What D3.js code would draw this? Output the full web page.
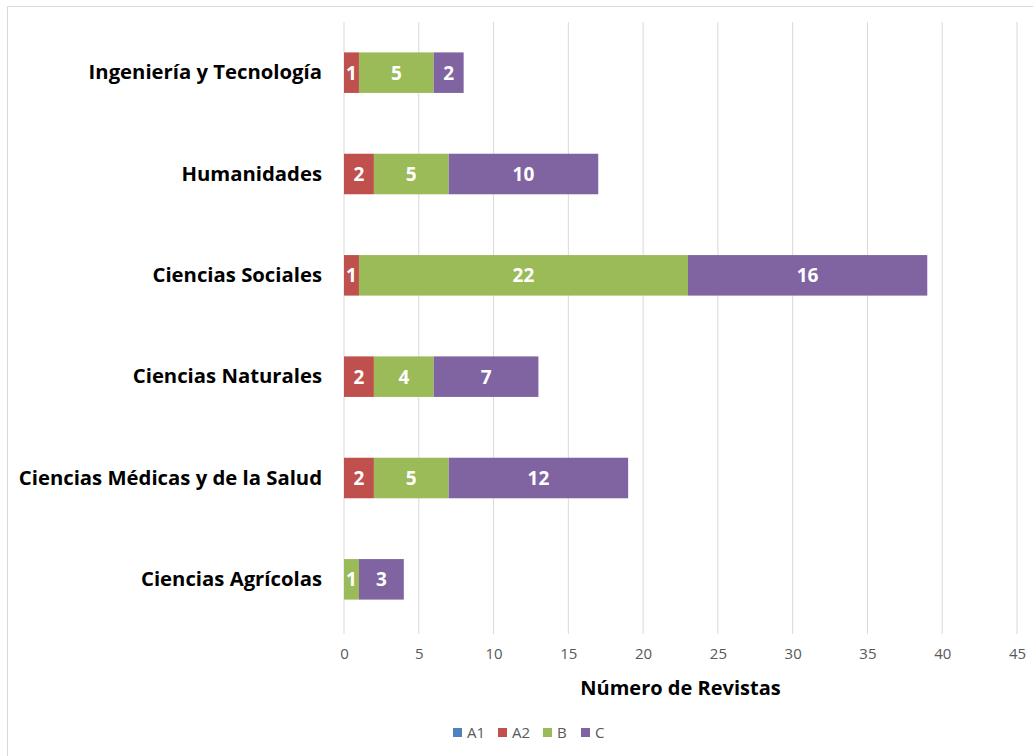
<!DOCTYPE html>
<html>
<head>
<meta charset="utf-8">
<script src="https://cdn.jsdelivr.net/npm/d3@7"></script>
<style>
  body { margin: 0; background: #fff; }
  svg { font-family: "Open Sans", Lato, sans-serif; }
</style>
</head>
<body>
<svg width="1033" height="756"></svg>
<script>
// data, top to bottom
const categories = ["Ingeniería y Tecnología", "Humanidades", "Ciencias Sociales",
  "Ciencias Naturales", "Ciencias Médicas y de la Salud", "Ciencias Agrícolas"];
const seriesNames = ["A1", "A2", "B", "C"];
const a1 = [0, 0, 0, 0, 0, 0];
const a2 = [1, 2, 1, 2, 2, 0];
const b = [5, 5, 22, 4, 5, 1];
const c = [2, 10, 16, 7, 12, 3];
const xTicks = [0, 5, 10, 15, 20, 25, 30, 35, 40, 45];
const colors = ["#4F81BD", "#C0504D", "#9BBB59", "#8064A2"];

const rows = categories.map((cat, i) => ({ cat: cat, A1: a1[i], A2: a2[i], B: b[i], C: c[i] }));
const stacked = d3.stack().keys(seriesNames)(rows);

const svg = d3.select("svg");
const font = "'Open Sans', Lato, sans-serif";

// outer frame
svg.append("rect").attr("x", 7.5).attr("y", 6.5).attr("width", 1040).attr("height", 760)
  .attr("fill", "none").attr("stroke", "#d9d9d9");

let x = d3.scaleLinear().domain([0, 45]).range([344, 1017]);
let y = d3.scaleBand().domain(categories).range([22, 630]).paddingInner(0.6).paddingOuter(0.3);

// gridlines
svg.append("g").selectAll("line").data(xTicks).enter().append("line")
  .attr("x1", d => x(d)).attr("x2", d => x(d))
  .attr("y1", 22).attr("y2", 634)
  .attr("stroke", "#d9d9d9").attr("stroke-width", 1);

// bars
const layer = svg.append("g").selectAll("g").data(stacked).enter().append("g")
  .attr("fill", (d, i) => colors[i]);

layer.selectAll("rect").data(d => d).enter().append("rect")
  .attr("x", d => x(d[0]))
  .attr("y", d => y(d.data.cat))
  .attr("width", d => x(d[1]) - x(d[0]))
  .attr("height", y.bandwidth());

// value labels
layer.selectAll("text").data(d => d.filter(p => p[1] - p[0] > 0)).enter().append("text")
  .attr("x", d => (x(d[0]) + x(d[1])) / 2)
  .attr("y", d => y(d.data.cat) + y.bandwidth() / 2)
  .attr("dy", "0.36em")
  .attr("text-anchor", "middle")
  .attr("fill", "#fff").attr("font-weight", "bold").attr("font-size", 19)
  .text(d => d[1] - d[0]);

// category labels
let leftAxis = d3.axisLeft(y).tickSize(0).tickPadding(22);
const gl = svg.append("g").attr("transform", "translate(344,0)").call(leftAxis);
gl.select(".domain").remove();
gl.selectAll("text").attr("font-size", 20.3).attr("font-weight", "bold")
  .attr("fill", "#000").attr("font-family", font);

// bottom axis
let bottomAxis = d3.axisBottom(x).tickValues(xTicks).tickSize(0).tickPadding(14);
const gb = svg.append("g").attr("transform", "translate(0,634)").call(bottomAxis);
gb.select(".domain").remove();
gb.selectAll("text").attr("font-size", 15).attr("fill", "#595959")
  .attr("font-family", font);

const xr = x.range();
svg.append("text").attr("x", (xr[0] + xr[1]) / 2).attr("y", 695).attr("text-anchor", "middle")
  .attr("font-size", 20).attr("font-weight", "bold").text("Número de Revistas");

// legend
const lg = svg.append("g").attr("transform", "translate(453,733)");
const offs = [0, 45, 90, 128];
seriesNames.forEach((s, i) => {
  lg.append("rect").attr("x", offs[i]).attr("y", -5).attr("width", 9).attr("height", 9).attr("fill", colors[i]);
  lg.append("text").attr("x", offs[i] + 14).attr("y", 0).attr("dy", "0.36em")
    .attr("font-size", 15).attr("fill", "#595959").text(s);
});
</script>
</body>
</html>
